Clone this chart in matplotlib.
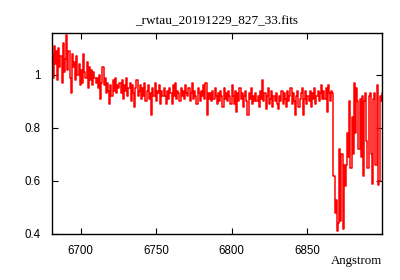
import matplotlib
matplotlib.use('Agg')
import matplotlib.pyplot as plt
import numpy as np
from matplotlib.ticker import FuncFormatter

# Spektrum: lineare Dispersion (wie im FITS-Header)
crval1 = 6681.0   # Angstrom, erster Pixel
cdelt1 = 0.75     # Angstrom pro Pixel

# normierter Fluss (20 Werte pro Zeile)
flux = [
    1.08, 0.99, 1.11, 1.04, 1.09, 0.98, 1.10, 1.03, 1.07, 0.97, 1.12, 1.01, 1.06, 1.15, 1.02, 1.09, 0.99, 0.93, 1.08, 1.03,
    1.05, 0.98, 1.07, 1.00, 1.04, 0.96, 1.02, 0.97, 1.08, 1.01, 0.99, 1.05, 0.95, 1.03, 0.98, 1.02, 0.96, 1.01, 0.99, 0.97,
    0.99, 0.95, 1.00, 0.91, 0.97, 1.03, 0.96, 0.99, 0.93, 0.97, 0.94, 0.89, 0.96, 0.92, 0.98, 0.94, 0.99, 0.93, 0.96, 0.95,
    0.97, 0.93, 0.98, 0.91, 0.96, 0.94, 0.99, 0.92, 0.95, 0.97, 0.90, 0.96, 0.93, 0.88, 0.95, 0.98, 0.92, 0.94, 0.96, 0.91,
    0.95, 0.92, 0.97, 0.90, 0.94, 0.96, 0.91, 0.93, 0.85, 0.95, 0.92, 0.97, 0.90, 0.94, 0.93, 0.96, 0.89, 0.94, 0.92, 0.95,
    0.92, 0.89, 0.94, 0.91, 0.95, 0.93, 0.89, 0.96, 0.92, 0.97, 0.91, 0.94, 0.93, 0.90, 0.95, 0.92, 0.94, 0.91, 0.96, 0.93,
    0.92, 0.95, 0.90, 0.93, 0.97, 0.91, 0.94, 0.92, 0.89, 0.95, 0.93, 0.90, 0.94, 0.92, 0.96, 0.91, 0.97, 0.85, 0.93, 0.91,
    0.93, 0.90, 0.94, 0.91, 0.95, 0.92, 0.89, 0.93, 0.90, 0.94, 0.92, 0.88, 0.95, 0.91, 0.93, 0.90, 0.94, 0.92, 0.89, 0.96,
    0.92, 0.89, 0.94, 0.86, 0.93, 0.90, 0.95, 0.91, 0.93, 0.88, 0.92, 0.94, 0.90, 0.85, 0.93, 0.91, 0.95, 0.89, 0.92, 0.90,
    0.93, 0.90, 0.92, 0.88, 0.94, 0.91, 0.98, 0.90, 0.93, 0.87, 0.92, 0.95, 0.89, 0.91, 0.94, 0.88, 0.92, 0.90, 0.93, 0.89,
    0.87, 0.92, 0.90, 0.94, 0.89, 0.93, 0.91, 0.88, 0.94, 0.90, 0.92, 0.95, 0.89, 0.93, 0.90, 0.85, 0.92, 0.94, 0.88, 0.91,
    0.93, 0.95, 0.85, 0.91, 0.94, 0.89, 0.92, 0.90, 0.94, 0.88, 0.93, 0.91, 0.95, 0.89, 0.92, 0.94, 0.90, 0.93, 0.96, 0.91,
    0.94, 0.91, 0.95, 0.86, 0.96, 0.93, 0.90, 0.94, 0.93, 0.62, 0.48, 0.53, 0.41, 0.44, 0.72, 0.45, 0.70, 0.42, 0.66, 0.58,
    0.66, 0.78, 0.69, 0.90, 0.65, 0.84, 0.70, 0.97, 0.78, 0.95, 0.90, 0.72, 0.91, 0.69, 0.92, 0.62, 0.90, 0.93, 0.75, 0.65,
    0.92, 0.93, 0.70, 0.59, 0.91, 0.93, 0.66, 0.96, 0.585, 0.60, 0.92, 0.90, 0.93,
]
wave = crval1 + cdelt1 * np.arange(len(flux))

titel = '_rwtau_20191229_827_33.fits'
x_ticks = [6700, 6750, 6800, 6850]
y_ticks = [0.4, 0.6, 0.8, 1.0]

fig = plt.figure(figsize=(4, 2.8), dpi=100)
ax = fig.add_axes([0.13, 0.1643, 0.825, 0.7179])

ax.plot(wave, flux, color='red', linewidth=1.1, drawstyle='steps-mid')

ax.set_xlim(6681, 6899.5)
ax.set_ylim(0.4, 1.158)
ax.set_xticks(x_ticks)
ax.set_yticks(y_ticks)
ax.yaxis.set_major_formatter(FuncFormatter(lambda v, p: '%g' % v))

ax.tick_params(direction='in', top=True, right=True, length=4, width=0.8,
               labelsize=8.3)
ax.tick_params(axis='x', pad=8)
ax.tick_params(axis='y', pad=8.5)
for lab in ax.get_xticklabels() + ax.get_yticklabels():
    lab.set_family('Liberation Sans')
for s in ax.spines.values():
    s.set_linewidth(1.0)

ax.set_title(titel, fontsize=9.5, family='Liberation Serif', pad=6)
ax.text(1.0, -0.105, 'Angstrom', transform=ax.transAxes, ha='right', va='top',
        fontsize=9.3, family='Liberation Serif')

fig.savefig('out.png', dpi=100, facecolor='white')
plt.close(fig)
